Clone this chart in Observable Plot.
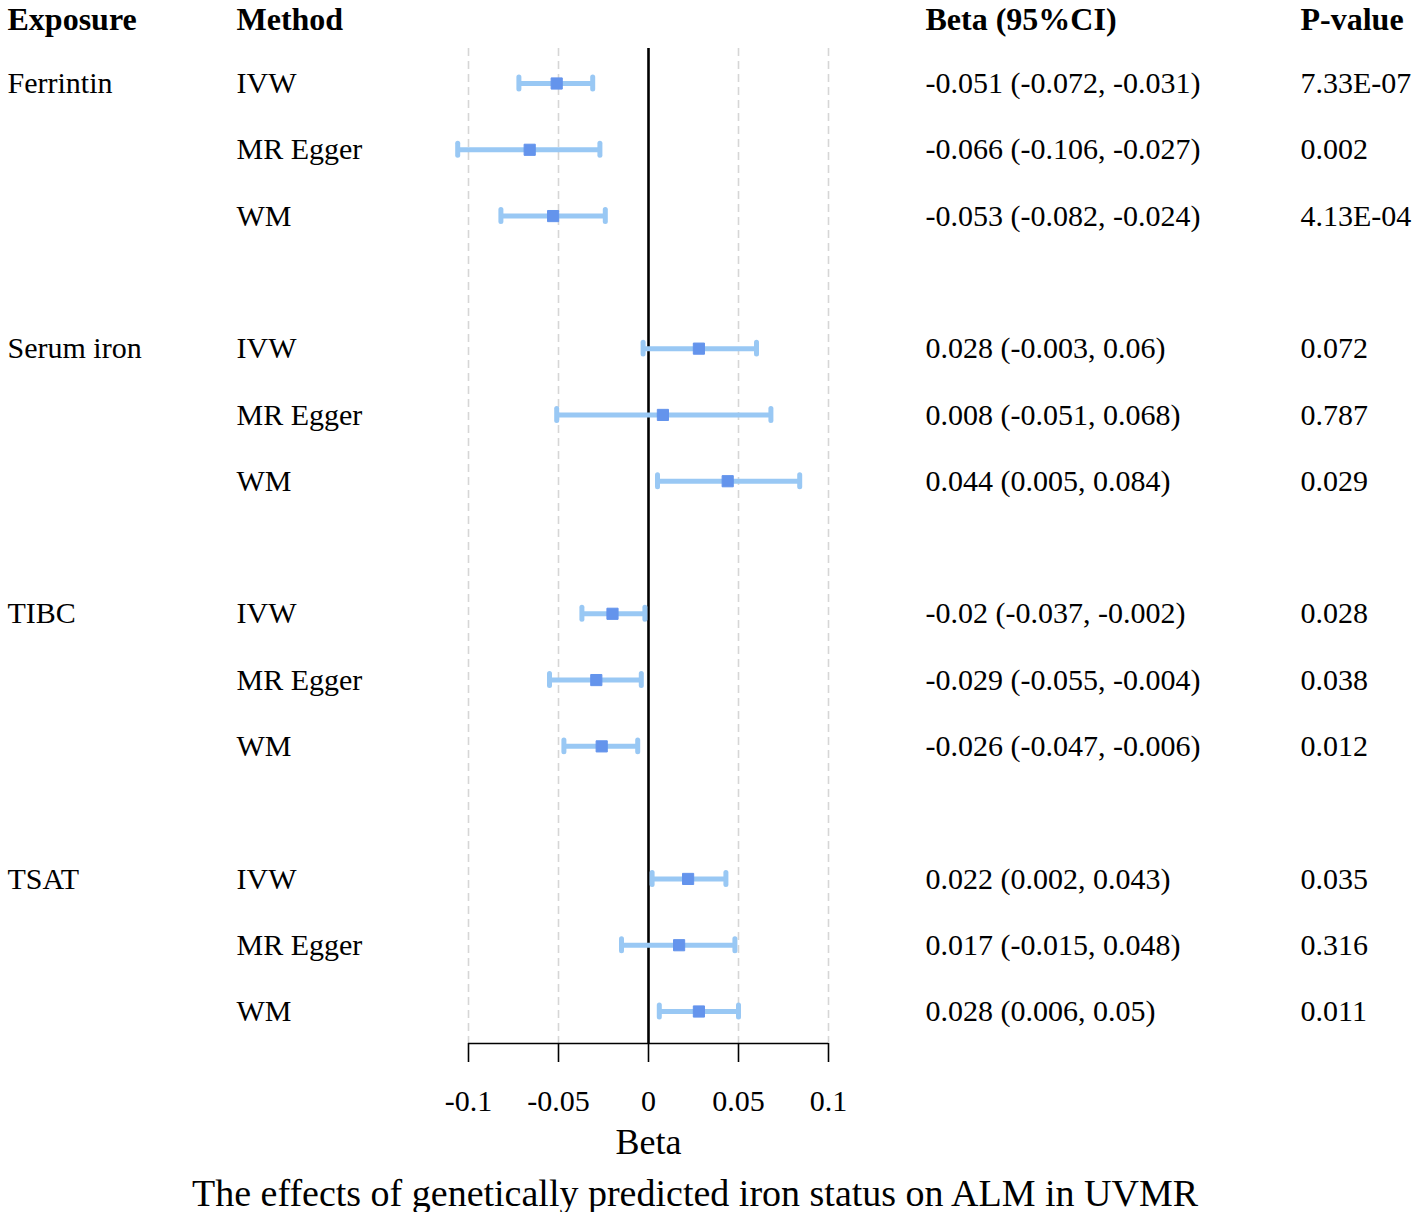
<!DOCTYPE html>
<html><head><meta charset="utf-8">
<script src="https://cdn.jsdelivr.net/npm/d3@7"></script>
<script src="https://cdn.jsdelivr.net/npm/@observablehq/plot@0.6"></script>
<style>
body{margin:0;background:#fff;font-family:"Liberation Serif","Times New Roman",serif;}
#chart svg{display:block}
#caption{font-size:38px;line-height:38px;text-align:center;width:1390px;white-space:nowrap;color:#000;}
</style></head><body>
<div id="chart"></div><div id="caption"></div>
<script>
const exposures = ["Ferrintin", "Serum iron", "TIBC", "TSAT"];
const methods = ["IVW", "MR Egger", "WM"];
const beta  = [-0.051, -0.066, -0.053,  0.028,  0.008, 0.044,  -0.02,  -0.029, -0.026,  0.022,  0.017, 0.028];
const lower = [-0.072, -0.106, -0.082, -0.003, -0.051, 0.005,  -0.037, -0.055, -0.047,  0.002, -0.015, 0.006];
const upper = [-0.031, -0.027, -0.024,  0.06,   0.068, 0.084,  -0.002, -0.004, -0.006,  0.043,  0.048, 0.05];
const pvalues = ["7.33E-07", "0.002", "4.13E-04", "0.072", "0.787", "0.029", "0.028", "0.038", "0.012", "0.035", "0.316", "0.011"];
const xTicks = [-0.1, -0.05, 0, 0.05, 0.1];
const headers = ["Exposure", "Method", "Beta (95%CI)", "P-value"];
const xLabel = "Beta";
const captionText = "The effects of genetically predicted iron status on ALM in UVMR";

const rows = beta.map((b, i) => {
  const g = Math.floor(i / 3), m = i % 3;
  return {
    row: g * 4 + m,
    exposure: m === 0 ? exposures[g] : "",
    method: methods[m],
    beta: b, lo: lower[i], hi: upper[i],
    ci: `${b} (${lower[i]}, ${upper[i]})`,
    p: pvalues[i]
  };
});

const colX = [7, 236, 925, 1300];
const colKeys = ["exposure", "method", "ci", "p"];
const barColor = "#99c8f4";
const capHalf = 0.09;

const textCols = colKeys.map((k, j) => Plot.text(rows, {
  y: "row", text: k, frameAnchor: "left", dx: colX[j], textAnchor: "start", lineAnchor: "middle", fontSize: 30, fill: "black"
}));
const headerCols = headers.map((h, j) => Plot.text([h], {
  y: () => -0.96, text: d => d, frameAnchor: "left", dx: colX[j], textAnchor: "start", lineAnchor: "middle", fontSize: 32, fontWeight: "bold", fill: "black"
}));

const chart = Plot.plot({
  width: 1416, height: 1174,
  marginLeft: 0, marginRight: 0, marginTop: 48, marginBottom: 131,
  style: {fontFamily: '"Liberation Serif", "Times New Roman", serif', fontSize: "30px", background: "white", color: "black"},
  x: {domain: [-0.1, 0.1], range: [468, 828]},
  y: {domain: [0, 14], range: [83, 1011], axis: null},
  marks: [
    Plot.ruleX(xTicks.filter(t => t !== 0), {stroke: "#d6d6d6", strokeWidth: 1.6, strokeDasharray: "8,5"}),
    Plot.ruleX([0], {stroke: "black", strokeWidth: 2.6}),
    Plot.ruleY([14], {x1: -0.1, x2: 0.1, dy: 32, stroke: "black", strokeWidth: 1.6}),
    Plot.ruleY(rows, {y: "row", x1: "lo", x2: "hi", stroke: barColor, strokeWidth: 5}),
    Plot.ruleX(rows, {x: "lo", y1: d => d.row - capHalf, y2: d => d.row + capHalf, stroke: barColor, strokeWidth: 5, strokeLinecap: "round"}),
    Plot.ruleX(rows, {x: "hi", y1: d => d.row - capHalf, y2: d => d.row + capHalf, stroke: barColor, strokeWidth: 5, strokeLinecap: "round"}),
    Plot.dot(rows, {x: "beta", y: "row", symbol: "square", r: 6.3, fill: "#6494ec", stroke: "#6494ec", strokeWidth: 1, strokeLinejoin: "round"}),
    Plot.axisX({ticks: xTicks, tickSize: 19, tickPadding: 27, tickFormat: d => String(d), fontSize: 30, label: null, stroke: "black", strokeWidth: 1.6}),
    Plot.text([xLabel], {x: () => 0, text: d => d, frameAnchor: "bottom", lineAnchor: "middle", dy: 99, fontSize: 36, fill: "black"}),
    ...textCols,
    ...headerCols
  ]
});
document.getElementById("chart").appendChild(chart);
document.getElementById("caption").textContent = captionText;
</script>
</body></html>
